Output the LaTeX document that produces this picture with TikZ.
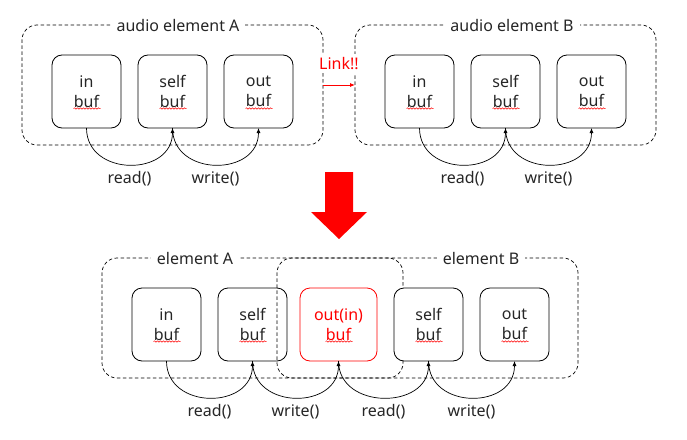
\documentclass[tikz,border=0pt]{standalone}
\usepackage{fontspec}
\setmainfont{Noto Sans}
\usetikzlibrary{positioning,arrows.meta,decorations.pathmorphing}

\begin{document}
\begin{tikzpicture}[x=1pt, y=-1pt, %
        font={\fontsize{16pt}{20pt}\selectfont},
        buf/.style={draw, rounded corners=10pt, fill=white, line width=0.8pt,
          minimum width=69pt, minimum height=73pt, align=center,
          inner sep=0pt, outer sep=0pt, text=black!85},
        elem/.style={draw, line width=0.7pt, dash pattern=on 3.5pt off 2.5pt,
          rounded corners=15pt, minimum width=301pt, minimum height=120pt,
          inner sep=0pt, outer sep=0pt},
        title/.style={fill=white, inner xsep=6pt, inner ysep=1pt, text=black!85},
        flow/.style={-{Latex[length=5pt,width=4pt]}, line width=0.7pt},
        call/.style={text=black!85},
        squiggle/.style={red, line width=0.5pt, decorate,
          decoration={snake, amplitude=0.7pt, segment length=3pt}}
        ]
        \useasboundingbox (0,0) rectangle (687,439);

        % before linking
        \node[elem] (elemA) at (172.5,85) {};
        \node[title] at ([xshift=5.5pt]elemA.north) {audio element A};
        \node[buf] (inA) at (86.5,91.5) {in\\buf};
        \node[buf, right=17pt of inA] (selfA) {self\\buf};
        \node[buf, right=17pt of selfA] (outA) {out\\buf};

        \node[elem] (elemB) at (505.5,85) {};
        \node[title] at ([xshift=6.5pt]elemB.north) {audio element B};
        \node[buf] (inB) at (419.5,91.5) {in\\buf};
        \node[buf, right=17pt of inB] (selfB) {self\\buf};
        \node[buf, right=17pt of selfB] (outB) {out\\buf};

        \draw[red, line width=0.8pt, -{Latex[length=5pt,width=4pt]}] (elemA.east) -- (elemB.west)
          node[midway, above=12pt, fill=white, inner xsep=1pt, text=red] {Link!!};

        \draw[flow] (inA.south) .. controls +(0,49) and +(0,49) .. (selfA.south)
          node[call, midway, below=3pt] {read()};
        \draw[flow] (selfA.south) .. controls +(0,49) and +(0,49) .. (outA.south)
          node[call, midway, below=3pt] {write()};
        \draw[flow] (inB.south) .. controls +(0,49) and +(0,49) .. (selfB.south)
          node[call, midway, below=3pt] {read()};
        \draw[flow] (selfB.south) .. controls +(0,49) and +(0,49) .. (outB.south)
          node[call, midway, below=3pt] {write()};

        % big arrow
        \fill[red] (325,172) -- (353,172) -- (353,212) -- (367,212) -- (339,239)
          -- (311,212) -- (325,212) -- cycle;

        % after linking
        \node[elem] (elemC) at (252.5,318) {};
        \node[title] at ([xshift=-57.5pt]elemC.north) {element A};
        \node[buf] (in1) at (166.5,324.5) {in\\buf};
        \node[buf, right=17pt of in1] (self1) {self\\buf};
        \node[buf, right=13pt of self1, minimum width=77pt, draw=red, text=red] (mid) {out(in)\\buf};
        \node[buf, right=17pt of mid] (self2) {self\\buf};
        \node[buf, right=17pt of self2] (out2) {out\\buf};
        \node[elem] (elemD) at (427.5,318) {};
        \node[title] at ([xshift=53.5pt]elemD.north) {element B};

        \draw[flow] (in1.south) .. controls +(0,49) and +(0,49) .. (self1.south)
          node[call, midway, below=3pt] {read()};
        \draw[flow] (self1.south) .. controls +(0,49) and +(0,49) .. (mid.south)
          node[call, midway, below=3pt] {write()};
        \draw[flow] (mid.south) .. controls +(0,49) and +(0,49) .. (self2.south)
          node[call, midway, below=3pt] {read()};
        \draw[flow] (self2.south) .. controls +(0,49) and +(0,49) .. (out2.south)
          node[call, midway, below=3pt] {write()};

        % spell check marks
        \foreach \b in {inA, selfA, outA, inB, selfB, outB, in1, self1, mid, self2, out2}
          \draw[squiggle] ([xshift=-13pt, yshift=-17pt]\b.center) -- ([xshift=14pt, yshift=-17pt]\b.center);
      \end{tikzpicture}
\end{document}
